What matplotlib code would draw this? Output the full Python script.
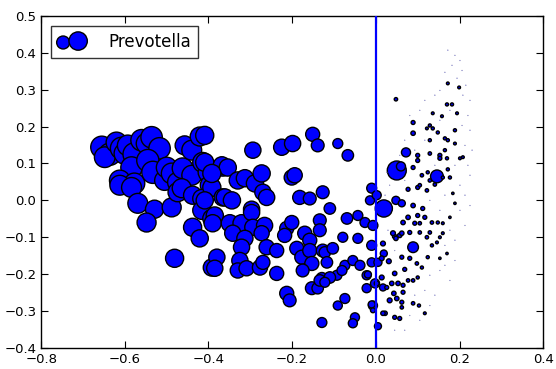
import numpy as np
import matplotlib
matplotlib.use("Agg")
import matplotlib.pyplot as plt

# --------------------------------------------------
# ---------------- data -----------
# --------------------------------------------------
# large circles, left cluster
big_x = [-0.655, -0.636, -0.648, -0.620, -0.608, -0.600, -0.593, -0.577, -0.584, -0.560,
         -0.548, -0.536, -0.517, -0.545, -0.612, -0.577, -0.533, -0.505, -0.500, -0.488,
         -0.474, -0.462, -0.457, -0.440, -0.440, -0.421, -0.414, -0.402, -0.397, -0.612,
         -0.584, -0.569, -0.529, -0.548, -0.488, -0.474, -0.464, -0.438, -0.416, -0.416,
         -0.392, -0.438, -0.421, -0.481, -0.392, -0.392, -0.366, -0.366, -0.409, -0.409,
         -0.368, -0.354, -0.330, -0.313, -0.289, -0.273, -0.270, -0.261, -0.294, -0.361,
         -0.344, -0.409, -0.297, -0.385, -0.390, -0.349, -0.321, -0.297, -0.294, -0.266,
         -0.342, -0.313, -0.321, -0.380, -0.385, -0.325, -0.330, -0.309, -0.277, -0.270,
         -0.273, -0.261, -0.237, -0.237, -0.392]
big_y = [0.144, 0.125, 0.117, 0.157, 0.141, 0.127, 0.149, 0.125, 0.089, 0.163,
         0.154, 0.171, 0.141, 0.108, 0.054, 0.046, 0.076, 0.054, 0.089, 0.073,
         0.049, 0.087, 0.149, 0.136, 0.068, 0.173, 0.103, 0.076, 0.041, 0.041,
         0.035, -0.008, -0.024, -0.060, -0.019, 0.022, 0.033, 0.014, 0.005, -0.027,
         -0.049, -0.073, -0.103, -0.157, -0.182, 0.035, 0.089, 0.008, 0.176, 0.103,
         0.095, 0.089, 0.054, 0.060, 0.046, 0.073, 0.022, 0.008, 0.136, 0.008,
         0.000, 0.000, -0.024, -0.041, -0.062, -0.062, -0.062, -0.033, -0.073, -0.068,
         -0.089, -0.103, -0.127, -0.154, -0.184, -0.163, -0.190, -0.184, -0.182, -0.168,
         -0.089, -0.127, -0.136, -0.198, 0.073]
big_s = [150, 150, 130, 130, 150, 140, 130, 160, 140, 140,
         130, 140, 140, 150, 130, 130, 150, 120, 130, 130,
         120, 130, 110, 120, 120, 110, 120, 110, 110, 120,
         120, 120, 100, 110, 110, 110, 110, 100, 100, 100,
         100, 100, 90, 100, 90, 100, 90, 90, 100, 100,
         90, 90, 90, 90, 90, 90, 80, 80, 80, 90,
         90, 90, 80, 90, 90, 90, 90, 80, 80, 80,
         80, 80, 80, 80, 80, 80, 70, 70, 70, 60,
         70, 70, 60, 60, 100]

# medium circles, middle of the plot
mid_x = [-0.225, -0.199, -0.151, -0.139, -0.201, -0.194, -0.182, -0.158, -0.127, -0.213,
         -0.201, -0.218, -0.170, -0.158, -0.189, -0.177, -0.158, -0.153, -0.175, -0.134,
         -0.134, -0.127, -0.129, -0.153, -0.139, -0.213, -0.206, -0.129, -0.091, -0.067,
         -0.110, -0.069, -0.043, -0.026, -0.079, -0.043, -0.010, -0.122, -0.103, -0.117,
         -0.074, -0.055, -0.038, -0.022, -0.093, -0.110, -0.134, -0.122, -0.022, -0.074,
         -0.091, -0.050, -0.055, -0.007, -0.010, -0.014, -0.007, -0.010, -0.002, 0.002,
         0.050, 0.060, 0.019, 0.048, 0.146, 0.089, 0.072, -0.081, 0.005, 0.019,
         0.005, -0.010, 0.017, -0.019]
mid_y = [0.144, 0.154, 0.179, 0.149, 0.062, 0.068, 0.008, 0.005, 0.022, -0.076,
         -0.060, -0.095, -0.089, -0.108, -0.130, -0.154, -0.136, -0.171, -0.190, -0.054,
         -0.081, -0.136, -0.211, -0.238, -0.238, -0.252, -0.271, -0.331, 0.154, 0.122,
         -0.022, -0.049, -0.041, -0.060, -0.100, -0.103, -0.122, -0.141, -0.130, -0.168,
         -0.176, -0.163, -0.176, -0.203, -0.203, -0.209, -0.217, -0.222, -0.238, -0.266,
         -0.285, -0.317, -0.333, -0.285, 0.033, 0.000, -0.068, -0.168, -0.225, 0.014,
         0.081, 0.092, -0.022, 0.000, 0.065, -0.127, 0.130, -0.190, -0.341, -0.144,
         -0.168, -0.282, -0.236, -0.201]
mid_s = [80, 80, 60, 50, 70, 70, 60, 50, 50, 60,
         60, 60, 60, 60, 60, 60, 60, 60, 50, 50,
         50, 50, 40, 50, 40, 60, 50, 30, 30, 40,
         40, 40, 30, 30, 30, 30, 30, 40, 40, 40,
         30, 30, 30, 25, 30, 40, 40, 30, 25, 30,
         25, 25, 25, 25, 30, 25, 30, 25, 25, 25,
         110, 25, 90, 20, 50, 35, 25, 30, 15, 15,
         20, 15, 15, 15]

# small dark dots, right of the zero line
small_x = [0.062, 0.017, 0.045, 0.057, 0.031, 0.014, 0.002, 0.014, 0.045, 0.038,
           0.053, 0.043, 0.033, 0.050, 0.065, -0.007, 0.022, 0.045, 0.057, 0.077,
           0.100, 0.122, 0.129, 0.089, 0.112, 0.100, 0.077, 0.065, 0.117, 0.093,
           0.105, 0.134, 0.148, 0.105, 0.081, 0.041, 0.062, 0.048, 0.129, 0.122,
           0.153, 0.134, 0.146, 0.062, 0.081, 0.098, 0.110, 0.124, 0.069, 0.089,
           0.077, 0.100, 0.026, 0.065, 0.062, 0.062, 0.089, 0.017, 0.117, 0.103,
           0.160, 0.160, 0.170, 0.153, 0.177, 0.184, 0.189, 0.048, 0.172, 0.199,
           0.170, 0.182, 0.194, 0.158, 0.136, 0.089, 0.129, 0.136, 0.122, 0.089,
           0.148, 0.189, 0.165, 0.172, 0.129, 0.189, 0.100, 0.100, 0.129, 0.153,
           0.153, 0.165, 0.170, 0.201, 0.208, 0.089, 0.110, 0.124, 0.172, 0.177,
           0.160, 0.105, 0.141]
small_y = [-0.008, -0.117, -0.098, -0.095, -0.165, -0.157, -0.225, -0.209, -0.198, -0.225,
           -0.225, -0.252, -0.271, -0.266, -0.249, -0.298, -0.306, -0.317, -0.320, 0.030,
           0.035, 0.027, 0.054, -0.014, -0.022, -0.041, -0.046, -0.060, -0.046, -0.062,
           -0.062, -0.060, -0.060, -0.087, -0.087, -0.089, -0.089, -0.103, -0.087, -0.100,
           -0.100, -0.122, -0.114, -0.154, -0.157, -0.171, -0.182, -0.154, -0.187, -0.217,
           -0.217, -0.209, -0.236, -0.230, -0.276, -0.290, -0.279, -0.306, -0.306, -0.285,
           -0.062, -0.089, -0.144, -0.157, -0.046, 0.019, -0.008, 0.274, 0.317, 0.306,
           0.260, 0.260, 0.236, 0.228, 0.236, 0.211, 0.203, 0.195, 0.195, 0.182,
           0.184, 0.190, 0.168, 0.163, 0.163, 0.154, 0.122, 0.108, 0.127, 0.122,
           0.114, 0.136, 0.114, 0.114, 0.117, 0.089, 0.068, 0.076, 0.084, 0.062,
           0.062, 0.041, 0.043]
small_s = [15, 12, 10, 10, 12, 12, 12, 12, 10, 10,
           10, 10, 12, 10, 8, 12, 10, 8, 8, 8,
           8, 6, 6, 10, 8, 8, 10, 10, 8, 8,
           6, 6, 5, 6, 8, 12, 10, 10, 6, 6,
           4, 5, 4, 8, 8, 6, 5, 5, 8, 6,
           6, 5, 8, 8, 8, 6, 6, 10, 4, 5,
           4, 4, 3, 3, 3, 3, 3, 6, 4, 4,
           5, 5, 4, 4, 4, 8, 5, 5, 4, 10,
           5, 5, 5, 5, 5, 4, 8, 8, 6, 8,
           8, 5, 5, 4, 4, 8, 6, 5, 5, 5,
           5, 6, 6]

# faint specks
faint_x = [0.172, 0.189, 0.201, 0.182, 0.206, 0.165, 0.194, 0.215, 0.153, 0.208,
           0.225, 0.141, 0.117, 0.177, 0.220, 0.105, 0.081, 0.153, 0.206, 0.225,
           0.117, 0.069, 0.213, 0.230, 0.093, 0.057, 0.220, 0.189, 0.225, 0.141,
           0.201, 0.213, 0.165, 0.129, 0.201, 0.177, 0.189, 0.165, 0.213, 0.153,
           0.129, 0.189, 0.117, 0.141, 0.105, 0.081, 0.129, 0.177, 0.093, 0.069,
           0.045, 0.153, 0.225, 0.165, 0.026, 0.069, 0.033, 0.045, 0.022, 0.029]
faint_y = [0.407, 0.393, 0.379, 0.366, 0.352, 0.347, 0.331, 0.312, 0.298, 0.285,
           0.271, 0.285, 0.271, 0.244, 0.230, 0.244, 0.230, 0.217, 0.203, 0.190,
           0.163, 0.163, 0.149, 0.136, 0.136, 0.122, 0.095, 0.095, 0.068, 0.095,
           0.041, 0.014, 0.014, 0.000, -0.027, -0.081, -0.108, -0.122, -0.068, -0.190,
           -0.203, -0.163, -0.244, -0.257, -0.325, -0.312, -0.285, -0.217, -0.257, -0.352,
           -0.352, -0.027, -0.014, -0.176, 0.076, 0.054, 0.041, -0.136, 0.014, -0.081]
faint_s = [0.4] * len(faint_x)

label = "Prevotella"

# --------------------------------------------------
# -------------------- plot ------------------------
# --------------------------------------------------
x = np.array(big_x + mid_x + small_x + faint_x)
y = np.array(big_y + mid_y + small_y + faint_y)
s = np.array(big_s + mid_s + small_s + faint_s, dtype=float)
s_plot = np.where(s >= 15, s * 1.7, s)          # marker area in pt^2
lw = np.where(s < 1, 0.3, 1.0)
edge = ["0.7" if v < 1 else "k" for v in s]

fig = plt.figure(figsize=(5.56, 3.69), dpi=100)
ax = fig.add_axes([0.074, 0.057, 0.903, 0.90])

ax.scatter(x, y, s=s_plot, c="b", edgecolors=edge, linewidths=lw, label=label, zorder=2)
ax.axvline(0, color="b", lw=1.6, zorder=3)

ax.set_xlim(-0.8, 0.4)
ax.set_ylim(-0.4, 0.5)
ax.set_xticks(np.arange(-0.8, 0.41, 0.2))
ax.set_yticks(np.arange(-0.4, 0.51, 0.1))
ax.tick_params(direction="in", top=True, right=True, length=5, labelsize=9.5)
for sp in ax.spines.values():
    sp.set_linewidth(1.0)

leg = ax.legend(loc="upper left", scatterpoints=2, fancybox=False, fontsize=12,
                markerscale=0.8, borderpad=0.42, handlelength=1.5,
                handletextpad=1.5, borderaxespad=0.6)
leg.get_frame().set_edgecolor("k")
leg.get_frame().set_linewidth(1.0)
leg.legend_handles[0].set_edgecolor("k")

fig.savefig("out.png", dpi=100)
